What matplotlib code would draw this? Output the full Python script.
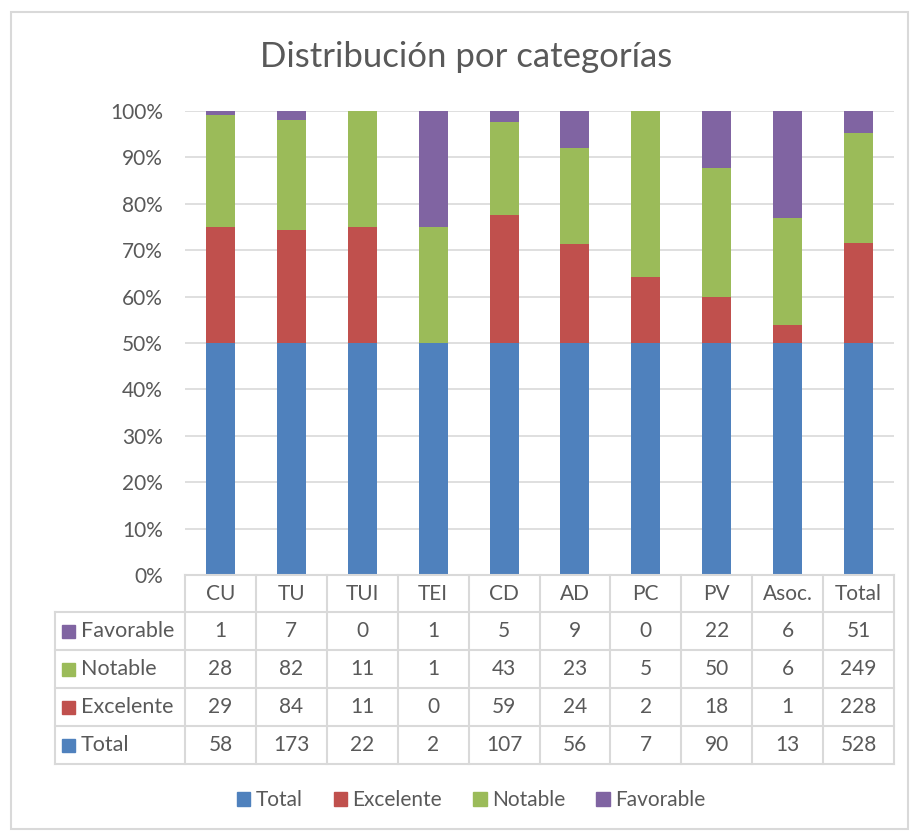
import matplotlib.pyplot as plt
import numpy as np
from matplotlib.lines import Line2D
from matplotlib.patches import Rectangle

# Datos de la tabla
categorias = ["CU", "TU", "TUI", "TEI", "CD", "AD", "PC", "PV", "Asoc.", "Total"]
total = [58, 173, 22, 2, 107, 56, 7, 90, 13, 528]
excelente = [29, 84, 11, 0, 59, 24, 2, 18, 1, 228]
notable = [28, 82, 11, 1, 43, 23, 5, 50, 6, 249]
favorable = [1, 7, 0, 1, 5, 9, 0, 22, 6, 51]

series = ["Total", "Excelente", "Notable", "Favorable"]
colores = ["#4F81BD", "#C0504D", "#9BBB59", "#8064A2"]
valores = [total, excelente, notable, favorable]

TXT = "#595959"
GRID = "#D9D9D9"
FS = 15
plt.rcParams["font.family"] = ["Lato", "DejaVu Sans"]

W, H = 911, 831
fig = plt.figure(figsize=(W / 100, H / 100), dpi=100)

# area de trazado en pixeles
x0, x1, ytop, ybot = 185, 894, 111, 575
ax = fig.add_axes([x0 / W, 1 - ybot / H, (x1 - x0) / W, (ybot - ytop) / H])

datos = np.array(valores, dtype=float)
pct = datos / datos.sum(axis=0) * 100
x = np.arange(len(categorias))
base = np.zeros(len(categorias))
for nombre, col, fila in zip(series, colores, pct):
    ax.bar(x, fila, bottom=base, width=0.41, color=col, label=nombre, zorder=3)
    base += fila

ax.set_xlim(-0.5, len(categorias) - 0.5)
ax.set_ylim(0, 100)
ax.set_yticks(np.arange(0, 101, 10))
ax.set_yticklabels([f"{v}%" for v in range(0, 101, 10)], color=TXT, fontsize=FS)
ax.tick_params(axis="y", length=0, pad=16)
ax.set_xticks([])
ax.grid(axis="y", color=GRID, linewidth=1.2, zorder=0)
for s in ax.spines.values():
    s.set_visible(False)

fig.text(0.512, 1 - 57 / H, "Distribución por categorías", ha="center", va="center",
         fontsize=25, color=TXT)


# tabla de datos debajo del eje
def fy(py):
    return 1 - py / H


def fx(px):
    return px / W


def linea(xa, xb, ya, yb):
    fig.add_artist(Line2D([fx(xa), fx(xb)], [fy(ya), fy(yb)], color=GRID,
                          linewidth=1.5, transform=fig.transFigure))


col_w = (x1 - x0) / len(categorias)
filas_y = [575, 612, 650, 688, 726, 764]
tab_left = 55

# cabecera
linea(x0, x1, 575, 575)
for i in range(len(categorias) + 1):
    linea(x0 + i * col_w, x0 + i * col_w, 575, 764)
for yy in filas_y[1:]:
    linea(tab_left, x1, yy, yy)
linea(tab_left, tab_left, 612, 764)

for i, c in enumerate(categorias):
    fig.text(fx(x0 + (i + 0.5) * col_w), fy(594), c, ha="center", va="center",
             fontsize=FS, color=TXT)

orden = list(range(len(series)))[::-1]
for r, k in enumerate(orden):
    yc = (filas_y[r + 1] + filas_y[r + 2]) / 2
    fig.add_artist(Rectangle((fx(62), fy(yc + 7)), 13 / W, 13 / H, color=colores[k],
                             transform=fig.transFigure))
    fig.text(fx(81), fy(yc), series[k], ha="left", va="center", fontsize=FS + 0.5,
             color=TXT)
    for i, v in enumerate(valores[k]):
        fig.text(fx(x0 + (i + 0.5) * col_w), fy(yc), str(v), ha="center", va="center",
                 fontsize=FS, color=TXT)

# leyenda
handles = [Rectangle((0, 0), 1, 1, color=c) for c in colores]
fig.legend(handles, series, loc="center", bbox_to_anchor=(0.517, fy(800)), ncol=4,
           frameon=False, fontsize=15, handlelength=0.65, handleheight=0.65,
           handletextpad=0.25, columnspacing=1.5, labelcolor=TXT)

# borde exterior
fig.add_artist(Rectangle((fx(11), fy(829)), 897 / W, 817 / H, fill=False,
                         edgecolor=GRID, linewidth=1.5, transform=fig.transFigure))

fig.savefig("out.png", dpi=100)
